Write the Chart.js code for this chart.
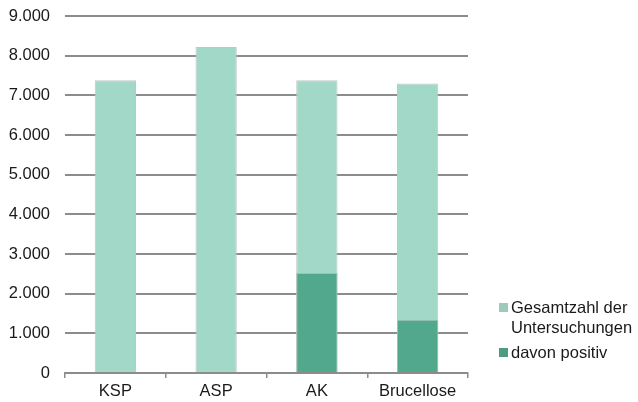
<!DOCTYPE html>
<html>
<head>
<meta charset="utf-8">
<script src="https://cdn.jsdelivr.net/npm/chart.js@4/dist/chart.umd.min.js"></script>
<style>
  html, body { margin: 0; padding: 0; background: #fff; }
  #wrap { width: 638px; height: 402px; }
</style>
</head>
<body>
<div id="wrap"><canvas id="chart" width="638" height="402"></canvas></div>
<script>
'use strict'

const categories = ['KSP', 'ASP', 'AK', 'Brucellose']
const totalTests = [7380, 8220, 7380, 7300]
const positiveTests = [0, 0, 2520, 1340]
const seriesNames = [['Gesamtzahl der', 'Untersuchungen'], ['davon positiv']]

const gridGray = '#8c8c8c'
const totalColor = '#a2d8c8'
const positiveColor = '#52a88d'
const fontFamily = '"Liberation Sans", Arial, sans-serif'

// 7300 -> "7.300"
const formatThousands = v => String(v).replace(/\B(?=(\d{3})+(?!\d))/g, '.')

// legend drawn by hand so the first entry can wrap onto two lines
const sideLegend = {
  id: 'sideLegend',
  afterDraw (chart) {
    const ctx = chart.ctx
    const swatches = [
      { color: '#9ccabd', lines: seriesNames[0], y: 308 },
      { color: '#4b9b85', lines: seriesNames[1], y: 353 }
    ]
    ctx.save()
    ctx.font = '16.5px ' + fontFamily
    ctx.textBaseline = 'middle'
    swatches.forEach(item => {
      ctx.fillStyle = item.color
      ctx.fillRect(499, item.y - 5, 9, 9)
      ctx.fillStyle = '#1a1a1a'
      item.lines.forEach((line, i) => {
        ctx.fillText(line, 511, item.y + i * 20)
      })
    })
    ctx.restore()
  }
}

const ctx = document.getElementById('chart')

const testsChart = new Chart(ctx, {
  type: 'bar',
  data: {
    labels: categories,
    datasets: [{
      label: seriesNames[0].join(' '),
      data: totalTests,
      backgroundColor: totalColor,
      borderColor: '#bcc8c4',
      borderWidth: 1,
      grouped: false, // both series share the same slot
      order: 1
    },
    {
      label: seriesNames[1].join(' '),
      data: positiveTests,
      backgroundColor: positiveColor,
      borderColor: '#a9bdb6',
      borderWidth: 1,
      grouped: false,
      order: 0 // painted over the totals
    }]
  },
  options: {
    responsive: false,
    animation: false,
    devicePixelRatio: 1,
    barPercentage: 0.41,
    categoryPercentage: 1,
    layout: { padding: { top: 16, right: 170, bottom: 0, left: 0 } },
    plugins: {
      legend: { display: false },
      tooltip: { enabled: false }
    },
    scales: {
      x: {
        afterFit: scale => { scale.height = 29 },
        grid: {
          drawOnChartArea: false,
          drawTicks: true,
          tickLength: 5,
          color: gridGray,
          lineWidth: 1.5
        },
        border: { color: gridGray, width: 2 },
        ticks: {
          color: '#1a1a1a',
          padding: 4,
          font: { family: fontFamily, size: 16.5 }
        }
      },
      y: {
        min: 0,
        max: 9000,
        afterFit: scale => {
          scale.width = 65
          scale.paddingTop = 0 // top label fits inside the layout padding
        },
        grid: { drawTicks: false, color: gridGray, lineWidth: 2 },
        border: { display: false },
        ticks: {
          stepSize: 1000,
          padding: 15,
          color: '#1a1a1a',
          font: { family: fontFamily, size: 16.5 },
          callback: v => formatThousands(v)
        }
      }
    }
  },
  plugins: [sideLegend]
})
</script>
</body>
</html>
